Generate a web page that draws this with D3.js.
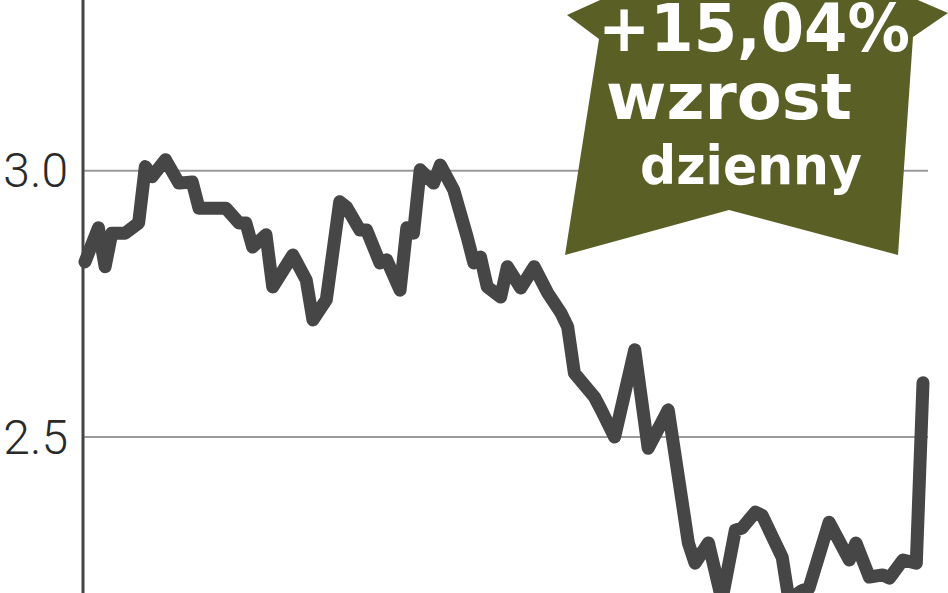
<!DOCTYPE html>
<html>
<head>
<meta charset="utf-8">
<script src="https://cdn.jsdelivr.net/npm/d3@7"></script>
<style>
  html, body { margin: 0; padding: 0; background: #fff; }
  svg { display: block; }
</style>
</head>
<body>
<div id="chart"></div>
<script>
// ---- data (session index, closing price) ----
const days = [0, 2, 3, 4, 6, 8, 9, 10, 12, 14, 16, 17, 21, 23, 24, 25, 27, 28, 31, 33,
  34, 36, 38, 39, 41, 42, 44, 45, 47, 48, 49, 50, 52, 53, 55, 57, 58, 59, 60, 62,
  63, 65, 67, 69, 71, 72, 73, 76, 77, 79, 82, 84, 87, 90, 91, 93, 95, 97, 98, 100,
  101, 104, 105, 107, 108, 111, 114, 115, 117, 119, 120, 122, 124, 125];
const prices = [2.829, 2.893, 2.820, 2.883, 2.883, 2.902, 3.008, 2.989, 3.021, 2.977,
  2.979, 2.930, 2.930, 2.902, 2.902, 2.857, 2.880, 2.782, 2.842, 2.795,
  2.720, 2.758, 2.942, 2.932, 2.889, 2.889, 2.827, 2.833, 2.776, 2.893,
  2.883, 3.002, 2.977, 3.011, 2.964, 2.876, 2.827, 2.838, 2.782, 2.763,
  2.820, 2.780, 2.820, 2.771, 2.733, 2.707, 2.620, 2.575, 2.551, 2.500,
  2.664, 2.479, 2.551, 2.301, 2.263, 2.301, 2.194, 2.325, 2.329, 2.359,
  2.353, 2.274, 2.194, 2.212, 2.216, 2.340, 2.269, 2.301, 2.237, 2.241,
  2.235, 2.269, 2.263, 2.602];
const yTicks = [2.5, 3.0];
const badgeLines = ['+15,04%', 'wzrost', 'dzienny'];

const W = 948, H = 593;
const svg = d3.select('#chart').append('svg')
  .attr('width', W).attr('height', H);

const x = d3.scaleLinear().domain([0, 125]).range([85, 923]);
const y = d3.scaleLinear().domain([2.207, 3.321]).range([H, 0]);
const axisX = 83;

// gridlines
svg.append('g')
  .selectAll('line')
  .data(yTicks).join('line')
  .attr('x1', axisX).attr('x2', 928)
  .attr('y1', d => y(d)).attr('y2', d => y(d))
  .attr('stroke', '#9a9a9a').attr('stroke-width', 2);

// tick labels
svg.append('g')
  .selectAll('text')
  .data(yTicks).join('text')
  .attr('x', 68).attr('y', d => y(d))
  .attr('text-anchor', 'end')
  .attr('dominant-baseline', 'central')
  .attr('font-family', 'Roboto, "Liberation Sans", sans-serif')
  .attr('font-weight', 300)
  .attr('font-size', 48)
  .attr('fill', '#2a2a2a')
  .text(d => d.toFixed(1));

// vertical axis line
svg.append('line')
  .attr('x1', axisX).attr('x2', axisX)
  .attr('y1', 0).attr('y2', H)
  .attr('stroke', '#444').attr('stroke-width', 3);

// arrow badge (annotation shape)
svg.append('path')
  .attr('d', 'M567,15 L755,-70 L948,13 L913,37 L898,255 L729,210 L565,255 L599,39 Z')
  .attr('fill', '#5a5f26');

const badge = svg.append('g')
  .attr('font-family', '"DejaVu Sans", sans-serif')
  .attr('font-weight', 'bold')
  .attr('fill', '#fff')
  .attr('text-anchor', 'middle');
const badgePos = [
  { cx: 754, by: 51, fs: 66, len: 312 },
  { cx: 729, by: 119, fs: 64, len: 246 },
  { cx: 751, by: 184, fs: 54, len: 222 }
];
badge.selectAll('text')
  .data(badgeLines).join('text')
  .attr('x', (d, i) => badgePos[i].cx)
  .attr('y', (d, i) => badgePos[i].by)
  .attr('font-size', (d, i) => badgePos[i].fs)
  .attr('textLength', (d, i) => badgePos[i].len)
  .attr('lengthAdjust', 'spacingAndGlyphs')
  .text(d => d);

// price line
const pts = days.map((d, i) => ({ d, v: prices[i] }));
svg.append('path')
  .datum(pts)
  .attr('fill', 'none')
  .attr('stroke', '#464646')
  .attr('stroke-width', 13)
  .attr('stroke-linejoin', 'round')
  .attr('stroke-linecap', 'round')
  .attr('d', d3.line().x(p => x(p.d)).y(p => y(p.v)));
</script>
</body>
</html>
